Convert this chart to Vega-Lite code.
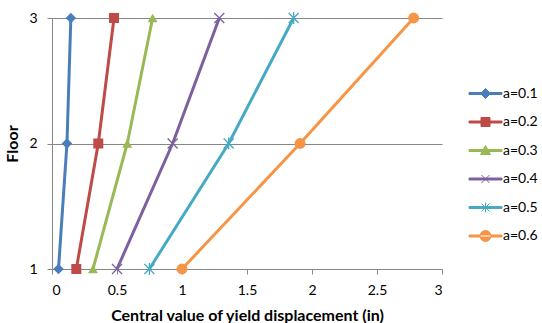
{
  "$schema": "https://vega.github.io/schema/vega-lite/v6.json",
  "width": 390,
  "height": 251,
  "autosize": "none",
  "padding": {"left": 52, "top": 18, "right": 100, "bottom": 54},
  "background": "white",
  "config": {
    "view": {"stroke": null},
    "font": "Lato",
    "axis": {"labelFont": "Lato", "titleFont": "Lato", "labelFontSize": 14, "titleFontSize": 16, "labelColor": "#000", "titleColor": "#000", "domainColor": "#868686", "tickColor": "#868686", "gridColor": "#868686"},
    "legend": {"labelFont": "Lato", "labelFontSize": 14, "labelColor": "#000"}
  },
  "data": {"values": [
    {"series": "a=0.1", "x": 0.05, "floor": 1},
    {"series": "a=0.1", "x": 0.115, "floor": 2},
    {"series": "a=0.1", "x": 0.145, "floor": 3},
    {"series": "a=0.2", "x": 0.187, "floor": 1},
    {"series": "a=0.2", "x": 0.356, "floor": 2},
    {"series": "a=0.2", "x": 0.477, "floor": 3},
    {"series": "a=0.3", "x": 0.315, "floor": 1},
    {"series": "a=0.3", "x": 0.579, "floor": 2},
    {"series": "a=0.3", "x": 0.774, "floor": 3},
    {"series": "a=0.4", "x": 0.5, "floor": 1},
    {"series": "a=0.4", "x": 0.928, "floor": 2},
    {"series": "a=0.4", "x": 1.287, "floor": 3},
    {"series": "a=0.5", "x": 0.749, "floor": 1},
    {"series": "a=0.5", "x": 1.359, "floor": 2},
    {"series": "a=0.5", "x": 1.859, "floor": 3},
    {"series": "a=0.6", "x": 1.0, "floor": 1},
    {"series": "a=0.6", "x": 1.908, "floor": 2},
    {"series": "a=0.6", "x": 2.782, "floor": 3}
  ]},
  "encoding": {
    "x": {"field": "x", "type": "quantitative", "scale": {"domain": [0, 3], "nice": false},
      "axis": {"values": [0, 0.5, 1, 1.5, 2, 2.5, 3], "format": "~g", "grid": false, "tickSize": 5, "labelPadding": 9, "title": "Central value of yield displacement (in)", "titleFontWeight": "bold", "titlePadding": 10}},
    "y": {"field": "floor", "type": "quantitative", "scale": {"domain": [1, 3], "nice": false, "zero": false},
      "axis": {"values": [1, 2, 3], "format": "~g", "grid": true, "tickSize": 5, "labelPadding": 10, "title": "Floor", "titleFontWeight": "bold", "titlePadding": 8}},
    "color": {"field": "series", "type": "nominal",
      "scale": {"domain": ["a=0.1", "a=0.2", "a=0.3", "a=0.4", "a=0.5", "a=0.6"], "range": ["#4A7EBB", "#BE4B48", "#98B954", "#7D60A0", "#46AAC5", "#F69546"]},
      "legend": null}
  },
  "layer": [
    {
      "mark": {"type": "line", "strokeWidth": 3},
      "encoding": {
        "order": {"field": "floor"},
        "color": {"field": "series", "type": "nominal",
          "legend": {
            "orient": "none", "legendX": 423, "legendY": 65, "title": null,
            "rowPadding": 10.5, "labelOffset": 7, "symbolSize": 400,
            "encode": {"symbols": {"update": {
              "shape": {"signal": "datum.value == 'a=0.1' ? 'M-1.65,-0.1H1.65V0.1H-1.65ZM0,-0.5L0.5,0L0,0.5L-0.5,0Z' : datum.value == 'a=0.2' ? 'M-1.65,-0.1H1.65V0.1H-1.65ZM-0.45,-0.45H0.45V0.45H-0.45Z' : datum.value == 'a=0.3' ? 'M-1.65,-0.1H1.65V0.1H-1.65ZM0,-0.5L0.5,0.4H-0.5Z' : datum.value == 'a=0.4' ? 'M-1.65,-0.1H1.65V0.1H-1.65ZM-0.4,-0.4L0.4,0.4M0.4,-0.4L-0.4,0.4' : datum.value == 'a=0.5' ? 'M-1.65,-0.1H1.65V0.1H-1.65ZM-0.4,-0.4L0.4,0.4M0.4,-0.4L-0.4,0.4M0,-0.5L0,0.5' : 'M-1.65,-0.1H1.65V0.1H-1.65ZM-0.55,0A0.55,0.55 0 1,0 0.55,0A0.55,0.55 0 1,0 -0.55,0Z'"},
              "fill": {"scale": "color", "field": "value"},
              "stroke": {"scale": "color", "field": "value"},
              "strokeWidth": {"value": 1},
              "opacity": {"value": 1},
              "fillOpacity": {"value": 1},
              "size": {"value": 400}
            }}}
          }}
      }
    },
    {
      "transform": [{"filter": "datum.series == 'a=0.1'"}],
      "mark": {"type": "point", "shape": "diamond", "filled": true, "opacity": 1, "size": 110}
    },
    {
      "transform": [{"filter": "datum.series == 'a=0.2'"}],
      "mark": {"type": "point", "shape": "square", "filled": true, "opacity": 1, "size": 100}
    },
    {
      "transform": [{"filter": "datum.series == 'a=0.3'"}],
      "mark": {"type": "point", "shape": "triangle-up", "filled": true, "opacity": 1, "size": 100}
    },
    {
      "transform": [{"filter": "datum.series == 'a=0.4'"}],
      "mark": {"type": "point", "shape": "M-1,-1L1,1M1,-1L-1,1", "filled": false, "opacity": 1, "strokeWidth": 1.3, "size": 100}
    },
    {
      "transform": [{"filter": "datum.series == 'a=0.5'"}],
      "mark": {"type": "point", "shape": "M-1,-1L1,1M1,-1L-1,1M0,-1.2L0,1.2", "filled": false, "opacity": 1, "strokeWidth": 1.3, "size": 100}
    },
    {
      "transform": [{"filter": "datum.series == 'a=0.6'"}],
      "mark": {"type": "point", "shape": "circle", "filled": true, "opacity": 1, "size": 120}
    }
  ]
}
